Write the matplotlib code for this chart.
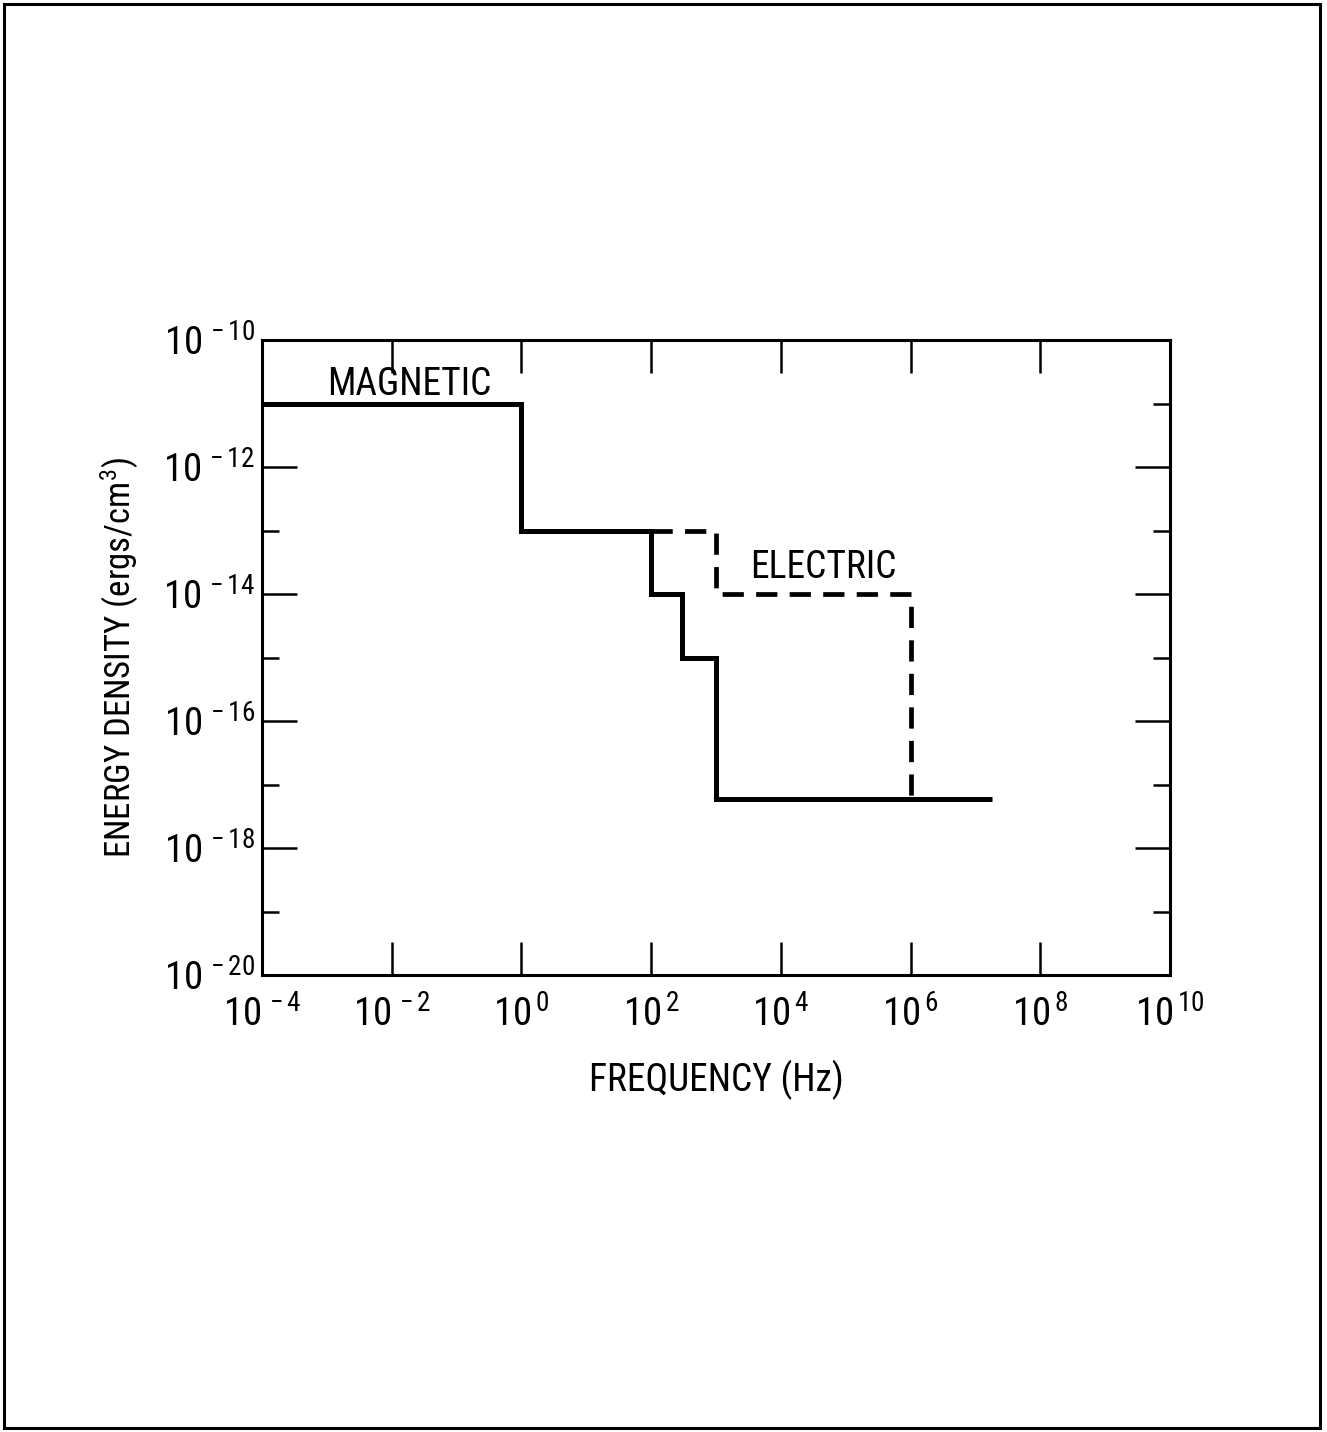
import numpy as np
import matplotlib
matplotlib.use("Agg")
import matplotlib.pyplot as plt
from matplotlib.patches import Rectangle
from matplotlib.ticker import FixedLocator, NullLocator, NullFormatter

plt.rcParams['font.family'] = ['Roboto Condensed', 'DejaVu Sans']
plt.rcParams['font.stretch'] = 'condensed'
plt.rcParams['mathtext.fontset'] = 'custom'
plt.rcParams['mathtext.rm'] = 'Roboto Condensed'
plt.rcParams['mathtext.it'] = 'Roboto Condensed'

# magnetic field energy density, step levels between frequency edges
mag_freq = [1e-4, 1e0, 1e2, 3e2, 1e3, 1.8e7]
mag_level = [1e-11, 1e-13, 1e-14, 1e-15, 6e-18]

# electric field energy density (dashed), drops to the magnetic floor at the end
elec_freq = [1e2, 1e3, 1e6]
elec_level = [1e-13, 1e-14]
elec_floor = 6e-18

x_tick_exp = [-4, -2, 0, 2, 4, 6, 8, 10]
y_major_exp = [-20, -18, -16, -14, -12, -10]
y_minor_exp = [-19, -17, -15, -13, -11]


def step_path(edges, levels, end=None):
    xs, ys = [], []
    for i, v in enumerate(levels):
        xs += [edges[i], edges[i + 1]]
        ys += [v, v]
    if end is not None:
        xs.append(edges[-1])
        ys.append(end)
    return xs, ys


W, H = 1327, 1432
fig = plt.figure(figsize=(W / 100, H / 100), dpi=100)
ax = fig.add_axes([262 / W, 1 - 975 / H, (1170 - 262) / W, (975 - 340) / H])

ax.set_xscale("log")
ax.set_yscale("log")
ax.set_xlim(1e-4, 1e10)
ax.set_ylim(1e-20, 1e-10)

ax.stairs(mag_level, mag_freq, baseline=None, color="black", linewidth=3.6)

ex, ey = step_path(elec_freq, elec_level, elec_floor)
ln, = ax.plot(ex, ey, color="black", linewidth=3.4)
ln.set_dashes((4.5, 2.6))

ax.text(1e-3, 10 ** -10.87, "MAGNETIC", fontsize=27, ha="left", va="baseline")
ax.text(10 ** 3.52, 10 ** -13.75, "ELECTRIC", fontsize=27, ha="left", va="baseline")

ax.xaxis.set_major_locator(FixedLocator([10.0 ** e for e in x_tick_exp]))
ax.xaxis.set_minor_locator(NullLocator())
ax.set_xticklabels([r"$\mathregular{10^{\,%d}}$" % e for e in x_tick_exp])

ax.yaxis.set_major_locator(FixedLocator([10.0 ** e for e in y_major_exp]))
ax.yaxis.set_minor_locator(FixedLocator([10.0 ** e for e in y_minor_exp]))
ax.yaxis.set_minor_formatter(NullFormatter())
ax.set_yticklabels([r"$\mathregular{10^{\,%d}}$" % e for e in y_major_exp])

ax.tick_params(axis="x", which="major", direction="in", length=24, width=1.8,
               top=True, labelsize=28, pad=15)
ax.tick_params(axis="y", which="major", direction="in", length=25, width=1.8,
               right=True, labelsize=28, pad=5)
ax.tick_params(axis="y", which="minor", direction="in", length=12, width=1.8,
               right=True)

for s in ax.spines.values():
    s.set_linewidth(2.2)

ax.set_xlabel("FREQUENCY (Hz)", fontsize=27, labelpad=18)
ax.set_ylabel(r"ENERGY DENSITY (ergs/cm$\mathregular{^3}$)", fontsize=25, labelpad=16)

fig.add_artist(Rectangle((4 / W, 4 / H), (1320 - 4) / W, (1428 - 4) / H,
                         transform=fig.transFigure, fill=False,
                         edgecolor="black", linewidth=2.2))

fig.savefig("out.png", dpi=100)
